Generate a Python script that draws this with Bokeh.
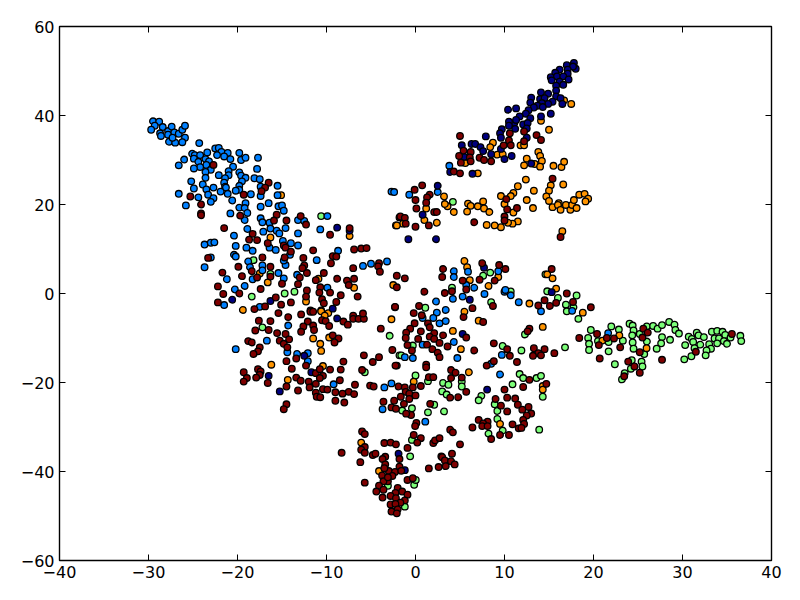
from bokeh.embed import file_html
from bokeh.resources import INLINE
from bokeh.plotting import figure
from bokeh.models import LinearAxis, FixedTicker, Range1d

dark_blue = [(-8.8,14.8),(-7.4,14.1),(-20.6,-1.4),(-16.3,-1.7),(-9.3,-3.4),(17.8,51.8),(17.0,51.3),(18.0,50.5),(17.7,51.0),(16.2,50.3),(17.1,50.3),(15.7,49.6),(17.1,49.4),(15.2,48.6),(15.9,48.8),(16.6,48.8),(17.2,48.1),(15.3,47.9),(16.2,47.6),(16.6,46.9),(15.8,46.7),(15.8,45.6),(14.9,44.9),(14.1,45.2),(15.8,44.3),(16.3,43.9),(13.0,44.0),(14.0,43.7),(14.5,43.9),(15.4,43.1),(12.9,42.9),(14.9,42.6),(14.2,42.8),(16.5,42.6),(13.7,42.2),(14.3,41.9),(13.3,41.8),(10.4,41.3),(11.3,41.6),(12.7,41.2),(12.4,40.4),(11.7,39.8),(15.2,40.4),(14.1,39.8),(12.9,39.4),(11.1,38.3),(10.5,38.6),(11.3,39.0),(10.5,37.7),(12.1,38.0),(12.6,38.3),(11.2,37.0),(12.5,37.1),(9.7,36.9),(9.5,36.0),(9.6,35.0),(7.9,35.3),(12.5,35.0),(5.2,33.3),(6.3,33.6),(6.7,33.6),(7.3,32.9),(7.6,32.0),(9.6,32.5),(8.5,31.3),(10.8,30.9),(10.0,30.2),(5.5,30.7),(13.0,29.2),(3.9,27.3),(6.4,26.9),(2.5,24.2),(0.8,17.7),(-0.8,12.2),(2.3,12.2),(-8.8,-5.6),(-12.5,-14.0),(-11.7,-17.7),(-16.5,-18.5),(-15.25,-22.0),(7.7,5.8),(6.1,-1.4),(15.3,0.3),(5.3,-9.1),(8.05,-21.6),(-1.9,-36.0),(-1.2,-39.7)]

blue = [(-29.5,38.7),(-28.8,38.6),(-29.3,37.7),(-29.7,36.8),(-28.4,37.4),(-28.7,36.0),(-28.6,35.4),(-27.8,36.5),(-27.4,37.5),(-27.8,35.7),(-27.1,36.2),(-26.6,35.9),(-26.2,36.8),(-25.9,37.7),(-25.9,35.0),(-27.7,34.1),(-27.0,33.9),(-26.2,34.0),(-27.3,35.0),(-24.3,33.8),(-22.5,32.6),(-22.1,32.7),(-25.1,31.4),(-24.8,31.1),(-24.2,31.1),(-23.4,31.7),(-21.8,31.8),(-21.1,31.6),(-22.3,31.1),(-21.5,30.8),(-19.8,31.6),(-20.8,30.2),(-19.6,30.0),(-19.1,30.5),(-17.7,30.5),(-26.0,30.1),(-26.6,28.8),(-24.9,30.3),(-24.4,29.6),(-23.6,30.2),(-23.2,29.7),(-23.5,28.9),(-24.2,28.4),(-24.9,28.1),(-23.0,27.8),(-23.6,27.3),(-20.5,28.5),(-17.8,28.0),(-21.0,27.5),(-19.8,27.2),(-22.1,26.6),(-21.0,26.6),(-19.6,26.5),(-23.6,26.0),(-19.1,26.0),(-18.1,25.9),(-17.5,25.7),(-21.4,25.9),(-19.5,25.2),(-25.2,25.2),(-23.9,24.5),(-21.5,24.9),(-21.4,24.0),(-21.3,23.8),(-24.9,23.6),(-22.7,23.8),(-23.5,23.4),(-19.8,24.2),(-19.8,23.3),(-20.2,23.1),(-21.9,22.9),(-21.1,22.4),(-18.5,22.3),(-26.6,22.4),(-23.3,22.2),(-24.4,21.6),(-22.7,21.4),(-23.0,20.6),(-17.4,24.0),(-17.4,21.9),(-15.5,24.2),(-15.5,22.1),(-20.6,20.9),(-19.1,20.3),(-25.8,19.8),(-19.8,19.3),(-19.2,19.2),(-18.9,18.1),(-17.4,19.5),(-16.5,20.3),(-15.4,19.6),(-15.0,19.8),(-14.8,18.6),(-20.8,18.0),(-19.2,16.5),(-17.4,16.9),(-17.2,16.0),(-16.4,15.9),(-16.3,14.6),(-17.1,13.9),(-14.6,14.7),(-15.6,14.1),(-15.3,13.5),(-18.9,14.5),(-20.4,13.0),(-13.2,16.5),(-12.5,16.3),(-13.2,13.5),(-10.7,14.4),(-9.9,17.4),(-23.7,11.0),(-23.0,11.4),(-22.6,11.5),(-20.2,10.7),(-19.0,10.3),(-18.3,9.6),(-16.4,10.3),(-15.7,9.8),(-14.9,11.8),(-14.0,11.3),(-13.2,10.8),(-20.4,8.7),(-20.2,8.3),(-23.0,8.1),(-18.8,7.2),(-18.6,5.9),(-17.2,6.3),(-17.2,5.2),(-14.6,6.4),(-14.8,7.4),(-14.1,8.7),(-11.1,7.5),(-8.7,9.6),(-5.9,6.2),(-5.0,6.7),(-3.2,7.2),(-23.7,5.9),(-21.2,3.2),(-19.2,1.7),(-18.3,3.2),(-15.4,4.6),(-14.8,3.4),(-13.3,4.2),(-9.9,1.3),(-20.3,0.9),(-21.5,-2.6),(-17.5,-3.0),(-2.7,22.9),(-2.4,22.8),(3.8,28.7),(-0.7,22.2),(2.5,22.8),(-14.3,-7.2),(-16.7,-10.6),(-20.2,-12.5),(-14.4,-13.2),(-13.3,-13.6),(-12.1,-13.4),(-12.1,-15.2),(-9.2,-20.4),(-3.5,-21.1),(-2.7,-20.2),(-3.7,-26.0),(4.3,5.0),(4.3,3.7),(5.9,4.9),(9.3,5.0),(5.7,1.9),(6.6,1.3),(7.75,-0.1),(4.2,-1.2),(5.3,-0.7),(2.3,-1.8),(3.4,-3.7),(2.4,-4.3),(0.8,-5.5),(2.0,-5.5),(2.7,-6.7),(3.4,-6.2),(4.3,-10.9),(0.8,-11.5),(-1.2,-14.3),(-0.3,-14.5),(4.7,-14.5),(9.7,-13.8),(8.5,-15.8),(9.5,-18.2),(10.0,0.4),(10.1,0.8),(10.7,-0.4),(11.6,-1.95),(14.1,-4.0),(17.6,-3.9),(1.1,-28.8),(21.65,-8.9)]

green = [(-10.6,17.4),(-18.2,7.5),(-18.4,-0.7),(-14.7,0.0),(-13.6,0.4),(-16.3,4.4),(4.2,20.6),(-17.2,-7.6),(-2.9,-9.5),(-5.7,-17.7),(-1.8,-13.9),(8.4,4.7),(7.6,4.0),(4.1,1.3),(10.7,0.45),(1.1,-3.2),(8.5,-1.95),(14.8,0.5),(14.6,4.3),(16.0,-1.0),(16.9,-2.5),(17.0,-4.0),(18.1,-0.45),(18.3,-5.7),(17.75,-3.1),(12.3,-9.2),(16.8,-12.1),(11.9,-12.8),(9.8,-11.8),(-0.3,-11.7),(-1.6,-13.9),(0.0,-18.4),(1.4,-19.7),(11.7,-18.1),(12.1,-19.0),(13.6,-19.0),(14.1,-18.5),(10.9,-20.4),(3.1,-20.1),(3.7,-20.5),(5.2,-19.8),(5.2,-20.9),(3.0,-22.0),(3.5,-22.7),(7.4,-23.0),(7.1,-24.0),(8.9,-24.9),(9.2,-26.4),(14.3,-23.2),(2.1,-25.0),(-0.4,-25.8),(-1.5,-26.3),(1.4,-26.7),(3.2,-26.5),(9.2,-28.2),(13.9,-30.6),(9.8,-30.8),(8.2,-31.5),(19.7,-8.2),(19.4,-10.0),(19.5,-11.3),(19.5,-12.7),(20.5,-10.7),(22.0,-7.4),(22.85,-8.1),(21.7,-10.9),(23.3,-10.6),(21.7,-13.0),(22.4,-15.9),(24.05,-6.8),(24.4,-7.2),(24.5,-8.3),(24.35,-9.4),(25.2,-9.1),(26.0,-7.4),(26.7,-7.3),(27.2,-7.9),(27.7,-7.1),(28.5,-6.4),(29.1,-7.0),(29.2,-8.2),(29.6,-9.0),(26.0,-10.8),(27.7,-9.8),(27.6,-11.2),(27.1,-12.4),(28.6,-10.4),(24.4,-11.0),(24.5,-12.4),(25.7,-13.6),(24.3,-15.0),(25.4,-15.3),(25.5,-16.4),(24.2,-16.9),(23.5,-17.9),(23.2,-19.3),(30.2,-14.8),(30.3,-11.6),(30.7,-9.7),(31.05,-10.2),(31.6,-8.8),(31.8,-9.4),(32.4,-9.8),(31.2,-10.9),(32.0,-11.5),(31.35,-12.3),(33.0,-11.4),(33.3,-8.6),(33.9,-8.4),(34.5,-8.6),(34.8,-9.3),(33.6,-10.1),(34.1,-10.1),(33.9,-11.2),(33.2,-12.4),(32.7,-12.8),(32.6,-13.9),(31.0,-14.1),(34.65,-10.7),(35.0,-11.3),(35.4,-9.9),(36.5,-9.5),(36.6,-10.7),(-0.6,-36.6),(-0.4,-32.9),(-0.15,-43.0),(0.03,-41.9),(-3.1,-43.2),(-1.2,-47.9)]

orange = [(-15.1,22.1),(-16.3,12.6),(-7.4,12.9),(-17.5,4.5),(-16.6,2.5),(-10.9,3.3),(-6.9,1.3),(-12.3,-1.8),(-19.4,-3.7),(-10.6,-3.8),(-2.2,15.3),(-2.5,1.9),(17.5,42.6),(16.7,43.4),(14.1,38.8),(15.0,36.8),(8.7,33.9),(8.4,32.9),(9.2,31.2),(9.8,31.3),(11.8,33.3),(12.2,33.3),(5.6,29.3),(7.0,27.0),(13.8,31.8),(14.0,30.9),(12.5,30.3),(14.2,29.8),(12.2,28.8),(13.4,29.1),(14.0,28.5),(15.5,28.7),(16.4,28.4),(16.7,29.6),(12.4,25.6),(11.5,24.1),(16.6,24.5),(15.2,24.3),(15.0,23.1),(13.3,23.1),(11.0,22.6),(9.6,21.9),(10.7,21.9),(14.7,21.8),(15.0,20.8),(12.5,21.0),(3.2,21.8),(7.6,20.7),(5.9,20.2),(6.2,19.7),(7.0,19.6),(10.0,20.1),(3.6,19.6),(3.3,20.1),(7.7,19.1),(5.8,18.4),(8.3,18.3),(4.3,18.3),(1.2,19.1),(11.0,18.2),(13.2,19.2),(15.4,19.4),(16.1,20.3),(16.0,19.9),(16.3,18.8),(16.9,19.9),(17.4,18.8),(17.6,19.9),(18.1,19.2),(17.8,21.0),(18.4,22.2),(19.0,22.4),(19.4,21.3),(19.1,20.7),(11.5,16.2),(10.9,15.7),(10.4,15.9),(9.6,14.9),(8.9,15.3),(8.0,15.4),(2.4,15.9),(1.0,16.5),(-1.4,15.7),(-2.1,15.3),(16.5,14.0),(-10.6,-4.0),(-9.8,-4.4),(-10.2,-5.0),(-2.7,-5.8),(-11.5,-10.1),(-9.7,-9.9),(-10.7,-11.3),(-10.6,-12.9),(-16.2,-16.0),(-10.4,-16.3),(-14.35,-19.4),(5.5,7.3),(5.8,5.9),(6.1,3.0),(9.3,3.7),(8.2,1.7),(5.5,-4.1),(4.2,-8.4),(7.1,-6.1),(5.1,-12.5),(6.0,-17.7),(-0.2,-19.8),(12.8,-2.25),(14.3,-7.5),(14.8,4.3),(15.4,3.4),(15.8,1.1),(14.3,-20.8),(14.3,-21.6),(9.5,-29.3),(18.8,-4.3),(21.0,-10.6),(22.9,-9.4),(25.96,-12.3),(-6.1,-33.5),(-4.1,-39.9)]

dark_red = [(-22.7,28.9),(-16.5,24.9),(-16.9,23.8),(-17.3,23.0),(-19.3,22.2),(-25.3,21.8),(-24.1,20.0),(-24.1,18.0),(-24.1,17.6),(-19.7,17.5),(-15.6,17.7),(-15.9,16.4),(-14.5,16.4),(-12.9,17.4),(-12.3,15.5),(-21.5,14.7),(-18.3,13.4),(-18.7,12.1),(-17.8,12.0),(-9.6,13.2),(-7.4,14.7),(-16.6,11.3),(-14.8,10.8),(-14.6,10.3),(-14.0,9.4),(-11.5,9.7),(-6.9,9.9),(-6.1,10.1),(-5.5,10.2),(-23.3,8.0),(-17.2,8.1),(-14.7,8.1),(-12.6,8.0),(-9.3,8.4),(-8.9,8.3),(-9.5,6.8),(-19.9,6.0),(-16.3,6.0),(-12.5,6.3),(-12.7,5.7),(-7.0,5.7),(-4.1,6.8),(-4.2,6.1),(-4.0,4.9),(-21.7,4.7),(-19.5,3.9),(-18.4,5.0),(-16.3,3.8),(-17.8,3.6),(-12.2,4.6),(-13.0,3.6),(-10.3,4.6),(-11.2,3.0),(-8.8,3.3),(-7.7,2.9),(-6.9,3.3),(-7.5,1.9),(-2.1,4.0),(-22.2,1.6),(-15.0,2.2),(-13.2,2.1),(-10.7,1.4),(-10.8,0.2),(-9.6,0.2),(-8.4,-0.4),(-6.5,-0.7),(-17.4,1.0),(-21.6,-0.1),(-19.8,0.0),(-12.2,0.7),(-12.3,-0.7),(-15.7,-0.9),(-22.2,-2.0),(-15.1,-2.5),(-14.0,-2.0),(-10.5,-1.3),(-10.3,-2.2),(-8.9,-1.9),(-18.1,-3.5),(-16.9,-2.9),(-2.3,-3.1),(-2.1,1.4),(-1.8,17.1),(-11.8,-3.8),
(5.0,35.4),(12.2,36.4),(10.6,36.0),(13.6,35.6),(14.1,34.5),(10.5,34.4),(12.2,34.2),(9.9,33.3),(10.7,33.3),(5.4,32.1),(6.2,31.8),(4.9,30.9),(6.1,30.6),(7.2,30.5),(7.7,30.0),(8.5,29.7),(5.1,29.4),(6.2,29.7),(4.3,27.4),(5.0,27.0),(15.4,25.8),(0.75,24.3),(-0.1,23.3),(1.6,22.2),(1.3,21.6),(0.0,21.0),(10.2,21.2),(1.2,20.4),(0.1,19.1),(11.4,19.2),(10.3,18.9),(2.1,18.3),(2.4,18.3),(-1.7,17.3),(-1.2,17.0),(10.0,17.3),(10.0,16.4),(-1.1,15.7),(1.5,15.3),(0.0,15.0),(6.6,16.0),(16.3,12.7),
(-15.4,-4.4),(-14.3,-5.3),(-12.85,-4.7),(-11.8,-4.1),(-11.5,-4.1),(-10.5,-6.0),(-10.1,-6.2),(-9.7,-7.3),(-12.1,-6.3),(-12.6,-7.4),(-12.85,-8.6),(-11.5,-7.2),(-11.4,-8.2),(-17.6,-6.1),(-16.3,-6.2),(-16.5,-8.2),(-18.0,-8.3),(-15.55,-8.9),(-14.6,-9.1),(-14.2,-10.3),(-15.25,-10.6),(-14.8,-11.3),(-14.4,-12.1),(-18.8,-10.7),(-18.4,-11.0),(-17.5,-12.1),(-17.7,-13.0),(-18.2,-13.6),(-8.1,-6.3),(-7.6,-7.0),(-7.0,-5.0),(-7.0,-5.7),(-6.4,-5.7),(-5.8,-5.7),(-5.9,-4.5),(-3.9,-7.9),(-9.3,-9.4),(-8.65,-10.1),(-9.1,-11.0),(-2.6,-12.7),(-5.8,-13.9),(-4.1,-14.3),(-4.8,-15.4),(-8.1,-15.3),(-2.1,-16.2),(-2.25,-16.2),(-13.4,-14.6),(-14.5,-15.2),(-12.3,-16.2),(-13.9,-16.9),(-11.2,-17.9),(-10.75,-17.0),(-9.6,-17.1),(-8.4,-17.1),(-6.0,-17.2),(-19.3,-17.7),(-17.7,-17.0),(-17.4,-17.5),(-17.5,-18.3),(-17.9,-18.9),(-18.95,-19.0),(-19.3,-19.8),(-16.6,-20.1),(-10.4,-18.5),(-10.75,-19.0),(-13.4,-18.9),(-12.9,-19.6),(-12.0,-19.8),(-11.2,-20.3),(-8.5,-19.5),(-6.8,-20.5),(-14.5,-20.9),(-11.9,-21.1),(-13.2,-21.8),(-10.4,-21.5),(-9.9,-21.6),(-11.2,-22.3),(-9.0,-22.2),(-8.2,-22.5),(-7.5,-22.1),(-6.9,-22.6),(-5.1,-20.7),(-4.7,-20.9),(-11.1,-23.2),(-10.7,-23.3),(-9.0,-24.1),(-8.0,-24.5),(-14.5,-24.9),(-14.8,-26.0),(-3.6,-24.3),(-2.4,-24.1),(-2.7,-25.6),(-2.2,-25.9),(-1.9,-20.9),(-2.3,-3.0),
(3.1,5.5),(3.0,3.7),(7.5,6.8),(9.4,6.4),(10.1,5.5),(7.2,3.1),(8.9,2.9),(5.3,2.9),(-1.2,3.4),(1.0,0.4),(3.3,0.1),(4.1,0.5),(5.7,0.9),(15.3,5.5),(17.0,0.0),(14.5,-1.5),(13.8,-2.7),(15.1,-2.8),(15.8,-2.1),(17.7,-1.9),(8.7,-2.8),(6.4,-3.3),(0.4,-2.8),(-0.2,-4.4),(0.7,-4.9),(1.4,-6.7),(1.6,-7.6),(-0.1,-6.7),(-0.6,-7.9),(-1.05,-8.8),(-1.1,-10.0),(0.6,-8.5),(0.3,-10.2),(2.1,-8.9),(3.1,-9.4),(1.6,-9.7),(2.1,-10.2),(2.7,-11.1),(1.3,-11.5),(3.6,-11.9),(1.9,-12.5),(2.5,-13.3),(2.7,-14.3),(6.6,-12.8),(-0.9,-11.6),(-0.4,-12.8),(5.4,-5.3),(7.6,-6.4),(5.7,-9.9),(12.8,-7.9),(12.6,-8.5),(8.8,-11.2),(10.3,-12.5),(10.6,-14.0),(11.4,-15.4),(13.3,-12.3),(14.5,-12.5),(13.8,-13.4),(13.2,-14.0),(14.1,-13.9),(15.6,-13.4),(18.4,-10.0),(8.0,-16.2),(8.8,-15.2),(1.2,-16.0),(1.2,-16.6),(4.0,-17.2),(4.5,-17.8),(1.5,-18.8),(2.0,-18.8),(4.0,-19.0),(5.2,-18.9),(12.8,-19.4),(14.7,-20.3),(-1.2,-21.1),(-0.3,-21.1),(0.6,-20.8),(-1.1,-22.1),(-0.7,-22.5),(0.0,-22.9),(-1.65,-23.2),(-0.7,-23.7),(-1.3,-24.8),(-0.5,-27.3),(-1.05,-27.0),(4.8,-23.3),(3.9,-23.4),(5.7,-22.1),(10.0,-21.6),(12.1,-21.0),(10.3,-23.4),(9.0,-23.7),(11.2,-23.6),(9.6,-25.2),(11.5,-25.0),(1.65,-24.8),(12.7,-25.5),(12.0,-26.1),(10.3,-26.5),(13.0,-26.97),(12.5,-27.4),(12.1,-28.4),(12.2,-29.3),(10.9,-29.4),(11.6,-30.3),(11.9,-30.2),(7.1,-28.4),(8.1,-28.8),(7.6,-29.2),(6.4,-30.1),(7.5,-29.8),(8.1,-29.8),(0.1,-29.1),(10.5,-31.8),(9.5,-31.8),(8.5,-32.7),
(20.4,-9.1),(20.6,-11.6),(21.5,-10.0),(22.3,-10.1),(23.0,-12.1),(20.7,-14.6),(25.6,-7.9),(26.1,-8.8),(25.5,-9.9),(25.2,-13.2),(27.7,-14.9),(23.9,-15.3),(24.6,-16.4),(25.2,-17.8),(23.45,-18.6),(31.5,-13.1),(35.55,-9.1),(19.7,-3.1),
(-6.0,-31.0),(-5.7,-31.6),(-0.04,-29.8),(-0.2,-31.8),(0.6,-32.5),(0.2,-33.5),(2.0,-33.6),(2.2,-33.0),(2.7,-32.5),(3.9,-30.6),(4.2,-31.2),(5.0,-33.9),(-8.3,-35.8),(-3.5,-33.6),(-2.8,-33.5),(-2.2,-33.9),(-0.9,-34.7),(-5.7,-34.5),(-6.1,-35.1),(-5.7,-35.8),(-4.8,-36.3),(-4.5,-36.0),(-6.2,-37.9),(-3.4,-36.7),(-3.7,-37.2),(-1.8,-37.2),(-3.4,-38.4),(-3.0,-39.9),(-3.5,-39.25),(-3.75,-40.9),(-2.3,-40.1),(-1.8,-38.9),(-2.6,-41.0),(-3.1,-42.2),(-3.6,-42.2),(-3.1,-41.3),(-1.6,-39.85),(-4.1,-43.2),(-3.6,-44.1),(-4.4,-44.5),(-3.7,-45.85),(-2.0,-43.7),(-1.5,-44.5),(-2.25,-44.8),(-0.9,-45.2),(-2.8,-45.5),(-2.2,-46.0),(-1.2,-46.5),(-1.7,-47.0),(-2.8,-47.4),(-2.25,-47.3),(-2.0,-48.5),(-2.7,-49.0),(-2.1,-49.4),(-5.7,-42.5),(-0.9,-41.9),(-0.3,-41.5),(1.5,-39.3),(2.6,-39.0),(2.9,-36.6),(3.0,-36.8),(4.1,-36.0),(3.3,-37.5),(3.4,-38.8),(4.0,-37.7),(4.4,-38.4)]

x_ticks = [-40, -30, -20, -10, 0, 10, 20, 30, 40]
y_ticks = [-60, -40, -20, 0, 20, 40, 60]
series = [(green, "#7cff79"), (orange, "#ff9400"), (blue, "#0080ff"), (dark_blue, "#00007f"), (dark_red, "#7f0000")]

p = figure(width=784, height=584, output_backend="svg", toolbar_location=None,
           x_range=Range1d(-40, 40), y_range=Range1d(-60, 60),
           min_border_left=59, min_border_right=13, min_border_top=26, min_border_bottom=24,
           x_axis_type=None, y_axis_type=None)
p.grid.visible = False
p.outline_line_color = "black"
p.outline_line_width = 1.4
p.background_fill_color = "white"
p.border_fill_color = "white"

for pts, col in series:
    p.scatter([a for a, b in pts], [b for a, b in pts], size=6.6, fill_color=col,
              line_color="black", line_width=1.3)

def make(ticks, labelled):
    a = LinearAxis(ticker=FixedTicker(ticks=ticks), axis_line_color=None,
                   major_tick_in=6, major_tick_out=0, minor_tick_line_color=None,
                   major_tick_line_color="black", major_tick_line_width=1,
                   major_label_text_font="DejaVu Sans", major_label_text_color="black",
                   major_label_text_font_size="16px")
    if labelled:
        a.major_label_overrides = {v: str(v).replace("-", "\u2212") for v in ticks}
        a.major_label_standoff = 5
    else:
        a.major_label_overrides = {v: "" for v in ticks}
        a.major_label_standoff = 0
    return a

p.add_layout(make(x_ticks, True), "below")
p.add_layout(make(y_ticks, True), "left")
p.add_layout(make(x_ticks, False), "above")
p.add_layout(make(y_ticks, False), "right")

open("out.html", "w").write(file_html(p, INLINE))
